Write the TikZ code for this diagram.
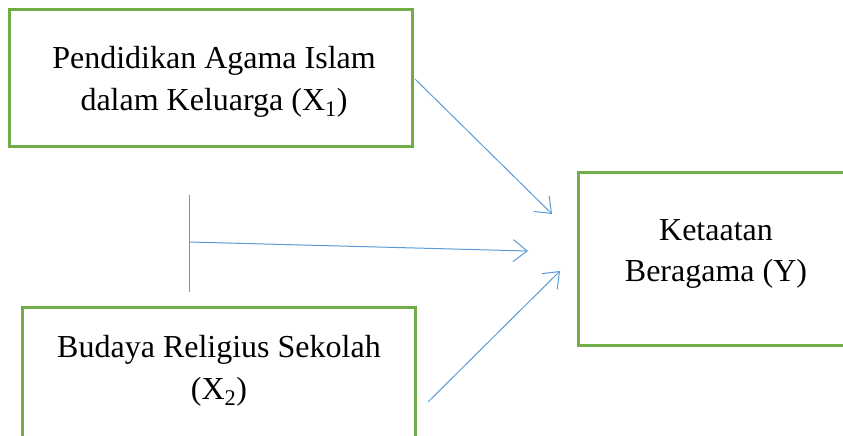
\documentclass[tikz,border=0pt]{standalone}
\usepackage{fontspec}
\setmainfont{Liberation Serif}
\usetikzlibrary{arrows.meta}
\definecolor{boxgreen}{HTML}{70AD47}
\definecolor{arrowblue}{HTML}{5B9BD5}
\tikzset{
  varbox/.style={draw=boxgreen, line width=3pt, fill=white, rectangle, inner sep=0pt},
  label/.style={font=\fontsize{32}{42}\selectfont, anchor=base, inner sep=0pt},
  link/.style={draw=arrowblue, line width=1pt},
  linkarrow/.style={link, -{Straight Barb[length=14pt,width=22pt,line width=1pt]}}
}
\begin{document}
\begin{tikzpicture}[x=1pt,y=-1pt]
\useasboundingbox (0,0) rectangle (843,436);
% boxes
\node[varbox, minimum width=403pt, minimum height=136pt] (bx1) at (210.5,78) {};
\node[varbox, minimum width=393pt, minimum height=170pt] (bx2) at (219,392) {};
\node[varbox, minimum width=270pt, minimum height=173pt] (bxy) at (713,258.5) {};
% texts
\node[label] (t1a) at (214,68) {Pendidikan Agama Islam};
\node[label] (t1b) at (214,110) {dalam Keluarga (X\textsubscript{1})};
\node[label] (t2a) at (219,357) {Budaya Religius Sekolah};
\node[label] (t2b) at (219,399) {(X\textsubscript{2})};
\node[label] (tya) at (716,240) {Ketaatan};
\node[label] (tyb) at (716,281) {Beragama (Y)};
% connectors
\coordinate (a1s) at (415,79);
\coordinate (a1e) at (552,214);
\coordinate (vtop) at (189,195);
\coordinate (vbot) at (189,292);
\coordinate (a2s) at (189,242);
\coordinate (a2e) at (528,251);
\coordinate (a3s) at (428,402);
\coordinate (a3e) at (560,271);
\draw[linkarrow] (a1s) -- (a1e);
\draw[link] (vtop) -- (vbot);
\draw[linkarrow] (a2s) -- (a2e);
\draw[linkarrow] (a3s) -- (a3e);
\end{tikzpicture}
\end{document}
